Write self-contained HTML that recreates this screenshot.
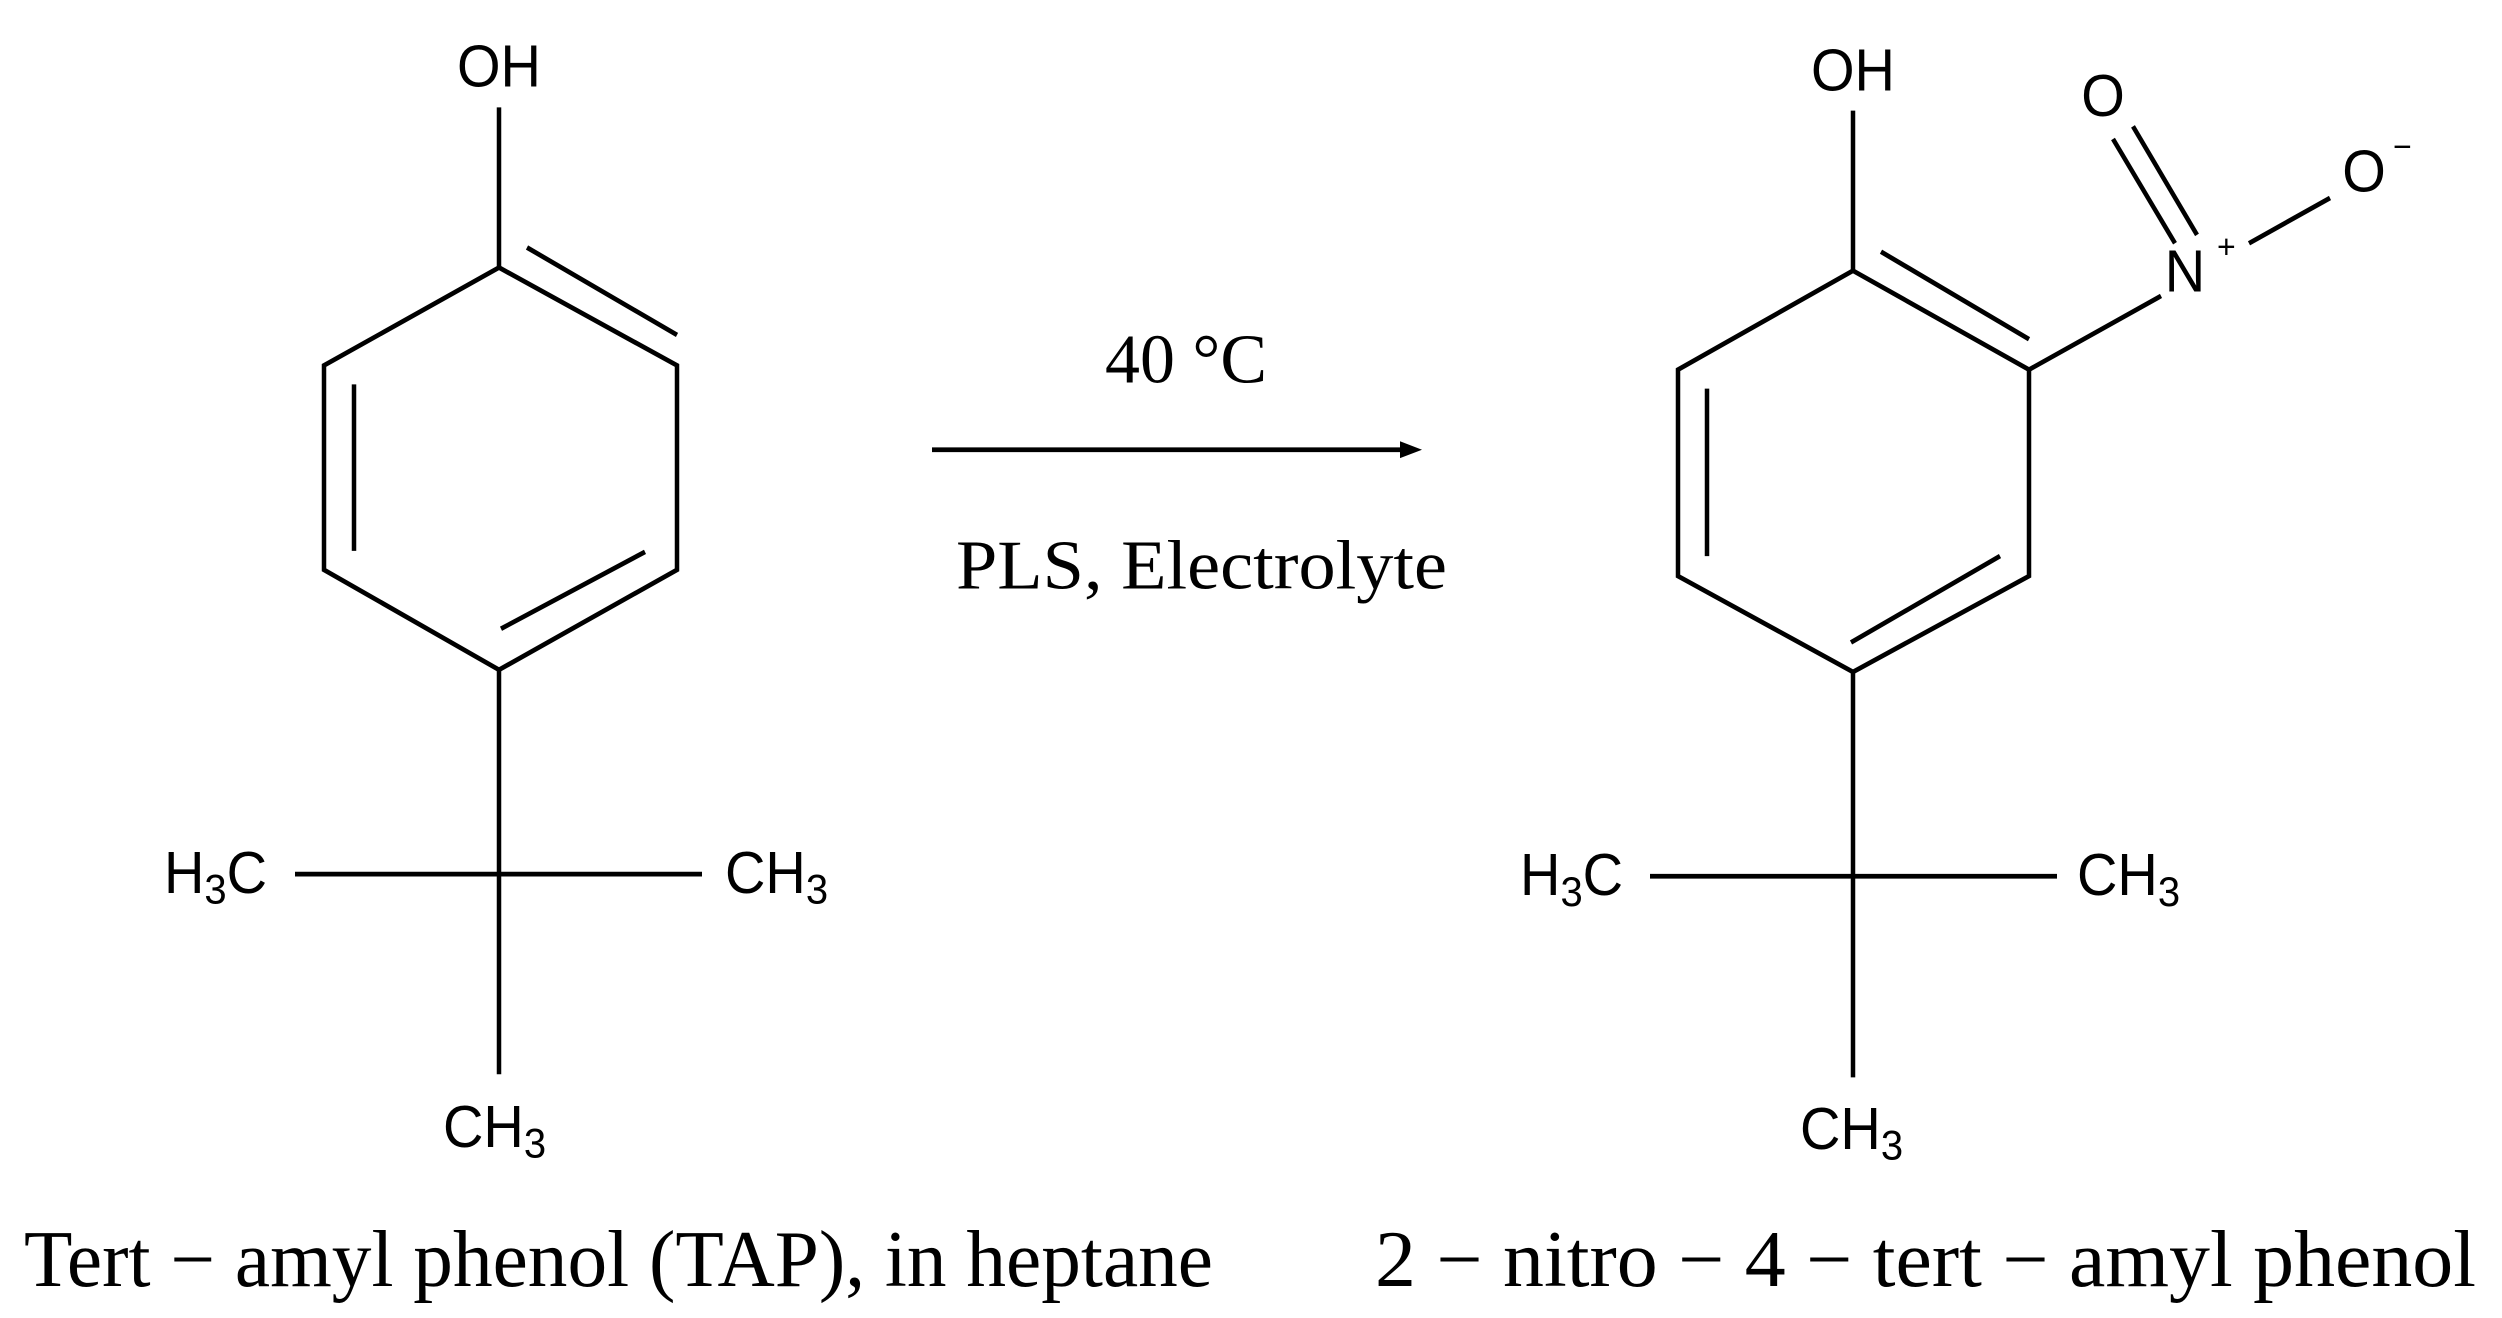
<!DOCTYPE html>
<html><head><style>html,body{margin:0;padding:0;background:#fff}svg{display:block}</style></head><body>
<svg width="2502" height="1318" viewBox="0 0 2502 1318" xmlns="http://www.w3.org/2000/svg">
<g transform="scale(1,1.0532)">
<g stroke="#000" stroke-width="4.5" fill="none" stroke-linecap="butt">
<line x1="499" y1="102" x2="499" y2="254"/>
<polygon points="499,254 677,347 677,541 499,636 324,541 324,347"/>
<line x1="527" y1="235" x2="677" y2="318"/>
<line x1="354" y1="365" x2="354" y2="523"/>
<line x1="501" y1="597" x2="645" y2="524"/>
<line x1="499" y1="636" x2="499" y2="1020"/>
<line x1="295" y1="830" x2="702" y2="830"/>
<line x1="932" y1="427" x2="1408" y2="427"/>
<line x1="1853" y1="105" x2="1853" y2="257"/>
<polygon points="1853,257 2029,351 2029,547 1853,638 1678,547 1678,351"/>
<line x1="1881" y1="239" x2="2029" y2="322"/>
<line x1="1707" y1="369" x2="1707" y2="528"/>
<line x1="1851" y1="610" x2="2000" y2="528"/>
<line x1="2029" y1="351" x2="2161" y2="281"/>
<line x1="2133" y1="120" x2="2197" y2="223"/>
<line x1="2113" y1="132" x2="2175" y2="231"/>
<line x1="2249" y1="231" x2="2330" y2="188"/>
<line x1="1853" y1="638" x2="1853" y2="1023"/>
<line x1="1650" y1="832" x2="2057" y2="832"/>
</g>
<polygon points="1422,427 1400,419 1400,435" fill="#000"/>
<g font-family="Liberation Sans, sans-serif" font-size="56" fill="#000">
<text x="499" y="82" text-anchor="middle">OH</text>
<text x="164" y="848">H<tspan font-size="40" dy="10">3</tspan><tspan dy="-10">C</tspan></text>
<text x="725" y="848">CH<tspan font-size="40" dy="10">3</tspan></text>
<text x="443" y="1089">CH<tspan font-size="40" dy="10">3</tspan></text>
<text x="1853" y="86" text-anchor="middle">OH</text>
<text x="2103" y="110" text-anchor="middle">O</text>
<text x="2185" y="277" text-anchor="middle">N</text>
<text x="2217" y="245" font-size="32">+</text>
<text x="2364" y="182" text-anchor="middle">O</text>
<text x="2393" y="150" font-size="32">−</text>
<text x="1520" y="850">H<tspan font-size="40" dy="10">3</tspan><tspan dy="-10">C</tspan></text>
<text x="2077" y="850">CH<tspan font-size="40" dy="10">3</tspan></text>
<text x="1800" y="1091">CH<tspan font-size="40" dy="10">3</tspan></text>
</g>
<g font-family="Liberation Serif, serif" fill="#000">
<text x="1105" y="363" font-size="66" textLength="162" lengthAdjust="spacingAndGlyphs">40 °C</text>
<text x="956" y="559" font-size="66" textLength="491" lengthAdjust="spacingAndGlyphs">PLS, Electrolyte</text>
<text x="24" y="1221" font-size="76" textLength="1189" lengthAdjust="spacingAndGlyphs">Tert − amyl phenol (TAP), in heptane</text>
<text x="1375" y="1221" font-size="76" textLength="1101" lengthAdjust="spacingAndGlyphs">2 − nitro − 4 − tert − amyl phenol</text>
</g>
</g>
</svg>
</body></html>
